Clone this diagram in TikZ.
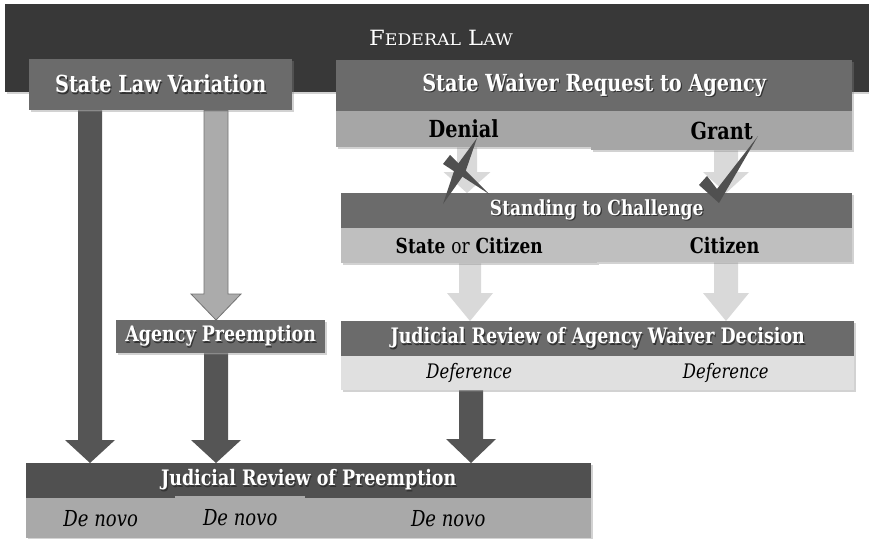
\documentclass[tikz,border=0pt]{standalone}
\usepackage{fontspec}
\setmainfont{DejaVu Serif}[FakeStretch=0.82]
\newfontfamily\fedfont{DejaVu Serif}[FakeStretch=1.08]
\usetikzlibrary{calc,shadows,backgrounds}
\definecolor{fedc}{HTML}{383838}
\definecolor{midc}{HTML}{6B6B6B}
\definecolor{denc}{HTML}{A6A6A6}
\definecolor{stcc}{HTML}{BFBFBF}
\definecolor{defc}{HTML}{E0E0E0}
\definecolor{lightarr}{HTML}{D9D9D9}
\definecolor{darkarr}{HTML}{555555}
\definecolor{jrpc}{HTML}{505050}
\definecolor{dnc}{HTML}{A9A9A9}
\definecolor{slarr}{HTML}{ABABAB}
\definecolor{markc}{HTML}{505050}
\newcommand\blockarrow[6]{\path[#1] let \p1=(#2),\p2=(#3) in (\x1-#4,\y1) -- (\x1-#4,\y2+#6) -- (\x1-#5,\y2+#6) -- (\x1,\y2) -- (\x1+#5,\y2+#6) -- (\x1+#4,\y2+#6) -- (\x1+#4,\y1) -- cycle;}
\newcommand\shtxt[1]{\rlap{\hspace{1.2pt}\raisebox{-1.2pt}{\color{black!80}#1}}#1}
\begin{document}
\begin{tikzpicture}[x=1pt,y=-1pt,
  box/.style={rectangle, inner sep=0pt, anchor=north west, align=center,
    drop shadow={opacity=0.35, shadow xshift=1.5pt, shadow yshift=-2pt}},
  headbox/.style={box, fill=midc, text=white, font=\bfseries\fontsize{23.5}{26}\selectfont},
  secbox/.style={headbox, font=\bfseries\fontsize{21.3}{24}\selectfont},
  subbox/.style={box, text=black, font=\bfseries\fontsize{23.5}{26}\selectfont},
  italbox/.style={box, text=black, font=\itshape\fontsize{20}{24}\selectfont},
  darkblock/.style={fill=darkarr},
  lightblock/.style={fill=lightarr},
  slblock/.style={fill=slarr, draw=black!55, line width=0.8pt},
  markstyle/.style={fill=markc}]
\useasboundingbox (0,0) rectangle (869,538);
% top band
\node (fed) [box, fill=fedc, minimum width=864pt, minimum height=88pt] at (5,4) {};
\node (fedtxt) [text=white, font=\fedfont\fontsize{21}{24}\selectfont] at (441,38)
  {\shtxt{F{\fontsize{16}{18}\selectfont EDERAL} L{\fontsize{16}{18}\selectfont AW}}};
% left column
\node (slv) [headbox, minimum width=263pt, minimum height=51pt] at (29,59) {\shtxt{State Law Variation}};
\node (ap) [secbox, minimum width=209pt, minimum height=33pt] at (116,320) {\shtxt{Agency Preemption}};
% right column
\node (swr) [headbox, minimum width=516pt, minimum height=51pt] at (336,60) {\shtxt{State Waiver Request to Agency}};
\node (den) [subbox, fill=denc, minimum width=255pt, minimum height=36pt] at (336,111) {Denial};
\node (gra) [subbox, fill=denc, minimum width=261pt, minimum height=39pt] at (591,111) {Grant};
\node (stc) [secbox, font=\bfseries\fontsize{20.8}{24}\selectfont, minimum width=511pt, minimum height=35pt] at (341,193) {\shtxt{Standing to Challenge}};
\node (soc) [subbox, font=\bfseries\fontsize{20.7}{24}\selectfont, fill=stcc, minimum width=256pt, minimum height=35pt] at (341,228) {State {\mdseries or} Citizen};
\node (cit) [subbox, font=\bfseries\fontsize{21.5}{24}\selectfont, fill=stcc, minimum width=255pt, minimum height=34pt] at (597,228) {Citizen};
\node (jra) [secbox, minimum width=513pt, minimum height=35pt] at (341,321) {\shtxt{Judicial Review of Agency Waiver Decision}};
\node (def1) [italbox, fill=defc, minimum width=256pt, minimum height=34pt] at (341,356) {Deference};
\node (def2) [italbox, fill=defc, minimum width=257pt, minimum height=34pt] at (597,356) {Deference};
% bottom
\node (jrp) [secbox, fill=jrpc, minimum width=565pt, minimum height=35pt] at (26,463) {\shtxt{Judicial Review of Preemption}};
\node (dn1) [italbox, font=\itshape\fontsize{22}{24}\selectfont, fill=dnc, drop shadow={opacity=0}, minimum width=149pt, minimum height=40pt] at (26,498) {De novo};
\node (dn2) [italbox, font=\itshape\fontsize{22}{24}\selectfont, fill=dnc, drop shadow={opacity=0}, minimum width=130pt, minimum height=42pt] at (175,496) {De novo};
\node (dn3) [italbox, font=\itshape\fontsize{22}{24}\selectfont, fill=dnc, drop shadow={opacity=0}, minimum width=286pt, minimum height=40pt] at (305,498) {De novo};
% arrows
\begin{pgfonlayer}{background}
\fill[white] (0,0) rectangle (869,538);
\blockarrow{darkblock}{[xshift=61pt]slv.south west}{jrp.north}{12pt}{25pt}{23pt}
\blockarrow{slblock}{[xshift=187pt]slv.south west}{ap.north}{12pt}{25pt}{26pt}
\blockarrow{darkblock}{[xshift=100pt]ap.south west}{jrp.north}{12pt}{25pt}{23pt}
\blockarrow{darkblock}{[xshift=130pt]def1.south west}{jrp.north}{12pt}{25pt}{24pt}
\blockarrow{lightblock}{[xshift=131pt]den.south west}{stc.north}{10pt}{23.5pt}{21pt}
\blockarrow{lightblock}{[xshift=135pt]gra.south west}{stc.north}{12pt}{23pt}{21pt}
\blockarrow{lightblock}{[xshift=129pt]soc.south west}{jra.north}{11pt}{23pt}{28pt}
\blockarrow{lightblock}{[xshift=129pt]cit.south west}{jra.north}{12pt}{23pt}{28pt}
\end{pgfonlayer}
% cross mark
\path[markstyle] (477,138) -- (465,173) -- (443,204) -- (455,168) -- cycle;
\path[markstyle] (443,164) -- (450,155) -- (489,194) -- cycle;
% check mark
\path[markstyle] (699,185) -- (707,176) -- (717,189) -- (758,136) -- (719,203) -- cycle;
\end{tikzpicture}
\end{document}
